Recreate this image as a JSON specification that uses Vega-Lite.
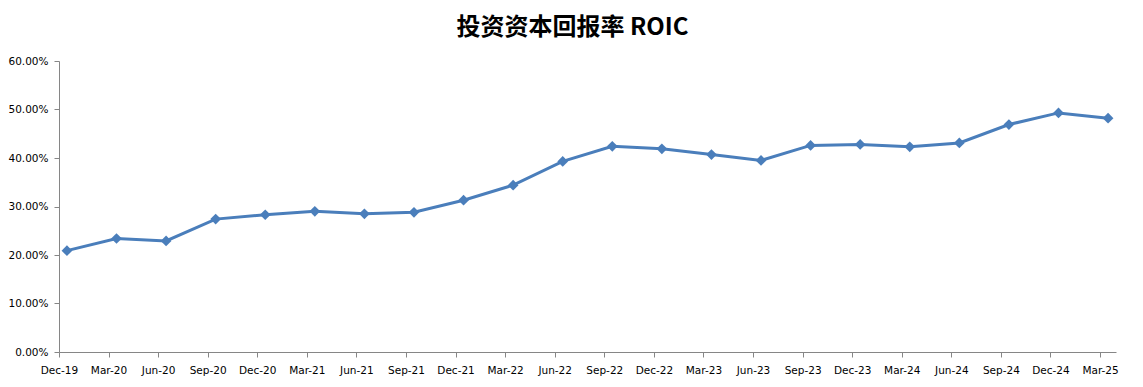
{
  "$schema": "https://vega.github.io/schema/vega-lite/v6.json",
  "width": 1057,
  "height": 291,
  "autosize": {"type": "none"},
  "padding": {"left": 59, "top": 61, "right": 27, "bottom": 35},
  "background": "white",
  "title": {
    "text": "投资资本回报率 ROIC",
    "font": "Noto Sans CJK SC",
    "fontSize": 24,
    "fontWeight": "bold",
    "color": "#000000",
    "anchor": "middle",
    "dx": -15,
    "offset": 16
  },
  "data": {
    "values": [
      {"period": "Dec-19", "roic": 0.209},
      {"period": "Mar-20", "roic": 0.234},
      {"period": "Jun-20", "roic": 0.229},
      {"period": "Sep-20", "roic": 0.274},
      {"period": "Dec-20", "roic": 0.283},
      {"period": "Mar-21", "roic": 0.290},
      {"period": "Jun-21", "roic": 0.285},
      {"period": "Sep-21", "roic": 0.288},
      {"period": "Dec-21", "roic": 0.313},
      {"period": "Mar-22", "roic": 0.344},
      {"period": "Jun-22", "roic": 0.393},
      {"period": "Sep-22", "roic": 0.424},
      {"period": "Dec-22", "roic": 0.419},
      {"period": "Mar-23", "roic": 0.407},
      {"period": "Jun-23", "roic": 0.395},
      {"period": "Sep-23", "roic": 0.426},
      {"period": "Dec-23", "roic": 0.428},
      {"period": "Mar-24", "roic": 0.423},
      {"period": "Jun-24", "roic": 0.431},
      {"period": "Sep-24", "roic": 0.469},
      {"period": "Dec-24", "roic": 0.493},
      {"period": "Mar-25", "roic": 0.482}
    ]
  },
  "config": {
    "view": {"stroke": null},
    "axis": {
      "grid": false,
      "domainColor": "#868686",
      "tickColor": "#868686",
      "labelColor": "#000000",
      "labelFont": "DejaVu Sans",
      "labelFontSize": 10.5,
      "title": null
    }
  },
  "mark": {
    "type": "line",
    "color": "#4a7ebb",
    "strokeWidth": 3,
    "point": {"shape": "diamond", "size": 115, "filled": true, "color": "#4a7ebb"}
  },
  "encoding": {
    "x": {
      "field": "period",
      "type": "ordinal",
      "sort": null,
      "scale": {"type": "point", "padding": 0.16},
      "axis": {
        "labelAngle": 0,
        "tickSize": 5,
        "tickOffset": -8,
        "labelPadding": 8,
        "domainWidth": 1
      }
    },
    "y": {
      "field": "roic",
      "type": "quantitative",
      "scale": {"domain": [0, 0.6], "nice": false},
      "axis": {
        "values": [0, 0.1, 0.2, 0.3, 0.4, 0.5, 0.6],
        "format": ".2%",
        "tickSize": 5,
        "labelPadding": 6
      }
    }
  }
}
